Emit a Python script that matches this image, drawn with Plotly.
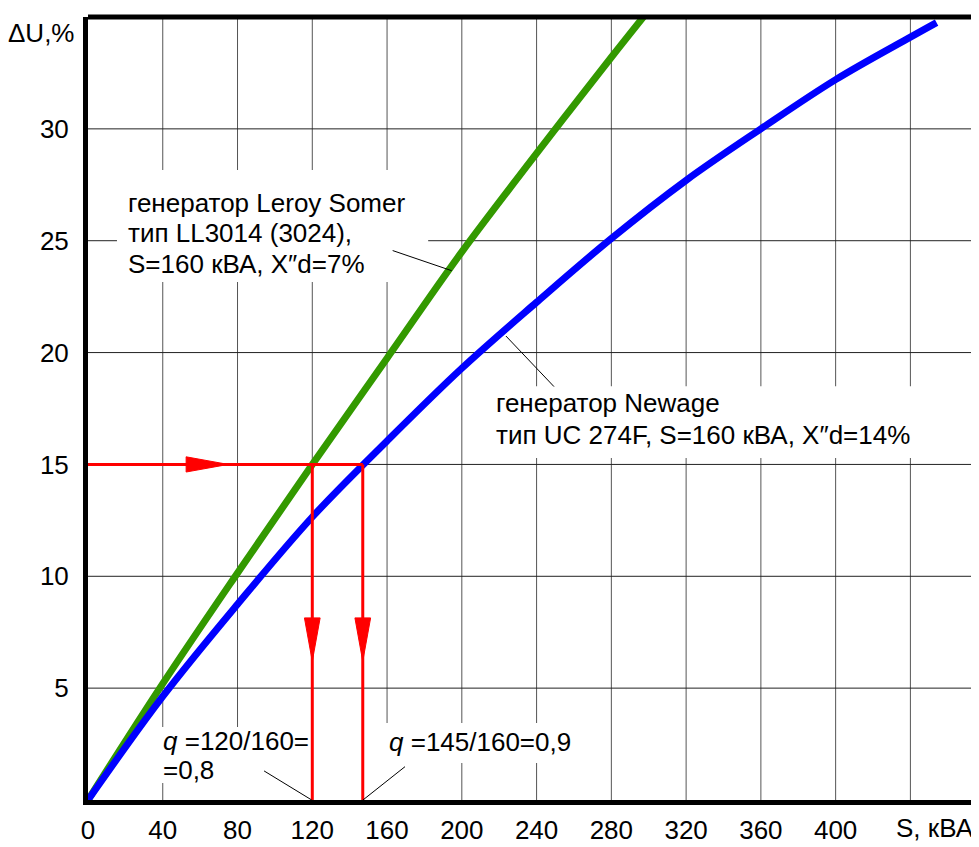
import plotly.graph_objects as go

# Leroy Somer LL3014 (green)
ls_s = [0, 40, 80, 120, 160, 200, 240, 280, 300]
ls_u = [0, 5.2, 10.15, 15.0, 19.75, 24.5, 28.9, 33.2, 35.3]
# Newage UC 274F (blue)
nw_s = [0, 40, 80, 120, 160, 200, 240, 280, 320, 360, 400, 440, 454]
nw_u = [0, 4.63, 8.75, 12.65, 16.05, 19.3, 22.25, 25.1, 27.7, 30.0, 32.2, 34.1, 34.75]

x_ticks = [0, 40, 80, 120, 160, 200, 240, 280, 320, 360, 400]
y_ticks = [5, 10, 15, 20, 25, 30]

du_level = 15
q_s = [120, 147]

FONT = "Liberation Sans, Arial, sans-serif"
FS = 26

fig = go.Figure()

# grid lines as shapes below data
for gx in [40, 80, 120, 160, 200, 240, 280, 320, 360, 400, 440]:
    fig.add_shape(type="line", x0=gx, x1=gx, y0=0, y1=35, line=dict(color="#555555", width=1), layer="below")
for gy in y_ticks:
    fig.add_shape(type="line", x0=0, x1=476.7, y0=gy, y1=gy, line=dict(color="#222222", width=1), layer="below")

# white label backgrounds (cover grid only)
boxes = [(15.5, 182.0, 23.16, 28.16),
         (211.3, 444.0, 15.29, 18.5),
         (33.0, 113.0, 0.76, 3.26),
         (76.0, 113.0, 0.0, 3.26),
         (153.6, 250.0, 1.65, 3.44),
         (153.6, 165.0, 0.0, 3.44)]
for (x0, x1, y0, y1) in boxes:
    fig.add_shape(type="rect", x0=x0, x1=x1, y0=y0, y1=y1, fillcolor="white", line=dict(width=0), layer="below")

fig.add_trace(go.Scatter(x=ls_s, y=ls_u, mode="lines", line=dict(color="#339900", width=7, shape="spline"), hoverinfo="skip"))
fig.add_trace(go.Scatter(x=nw_s, y=nw_u, mode="lines", line=dict(color="#0000ff", width=7, shape="spline"), hoverinfo="skip"))

# red construction lines
fig.add_trace(go.Scatter(x=[0, q_s[1]], y=[du_level, du_level], mode="lines", line=dict(color="#ff0000", width=3), hoverinfo="skip"))
for qs in q_s:
    fig.add_trace(go.Scatter(x=[qs, qs], y=[du_level, 0], mode="lines", line=dict(color="#ff0000", width=3), hoverinfo="skip"))

# arrowheads (in data units)
fig.add_trace(go.Scatter(x=[52.5, 75, 52.5, 52.5], y=[du_level + 0.34, du_level, du_level - 0.34, du_level + 0.34],
                         mode="lines", fill="toself", fillcolor="#ff0000", line=dict(color="#ff0000", width=1), hoverinfo="skip"))
for qs in q_s:
    fig.add_trace(go.Scatter(x=[qs - 4.2, qs + 4.2, qs, qs - 4.2], y=[8.14, 8.14, 6.2, 8.14],
                             mode="lines", fill="toself", fillcolor="#ff0000", line=dict(color="#ff0000", width=1), hoverinfo="skip"))

# leader lines
leaders = [((163.0, 24.56), (194.6, 23.66)),
           ((223.6, 20.74), (249.3, 18.48)),
           ((94.2, 1.30), (119.7, 0)),
           ((169.6, 1.49), (147.1, 0))]
for (a, b) in leaders:
    fig.add_shape(type="line", x0=a[0], y0=a[1], x1=b[0], y1=b[1], line=dict(color="black", width=1), layer="above")

def ann(x, y, text, **kw):
    d = dict(x=x, y=y, text=text, showarrow=False, xanchor="left", yanchor="middle", align="left",
             font=dict(family=FONT, size=FS, color="black"), borderpad=4)
    d.update(kw)
    fig.add_annotation(**d)

xd = "X\u2033d"
ann(18.8, 26.69, "генератор Leroy Somer")
ann(18.8, 25.35, "тип LL3014 (3024),")
ann(18.8, 23.98, "S=160 кВА, " + xd + "=7%")
ann(215.7, 17.75, "генератор Newage")
ann(215.7, 16.32, "тип UC 274F, S=160 кВА, " + xd + "=14%")
ann(37.3, 2.65, "<i>q</i> =120/160=")
ann(37.3, 1.34, "=0,8")
ann(158.4, 2.61, "<i>q</i> =145/160=0,9")

fig.add_annotation(x=-0.0527, xref="paper", y=34.3, text="\u0394U,%", showarrow=False, xanchor="center", yanchor="middle",
                   font=dict(family=FONT, size=FS, color="black"))
fig.add_annotation(x=453, y=0, yref="y", text="S, кВА", showarrow=False, xanchor="center", yanchor="top", yshift=-11,
                   font=dict(family=FONT, size=FS, color="black"))

# top border
fig.add_shape(type="line", xref="paper", yref="paper", x0=0, x1=1, y0=1, y1=1, line=dict(color="black", width=5), layer="above")

fig.update_layout(
    width=971, height=839,
    margin=dict(l=80, r=0, t=9, b=47, autoexpand=False),
    plot_bgcolor="white", paper_bgcolor="white",
    showlegend=False,
    xaxis=dict(range=[0, 476.7], tickvals=x_ticks, ticktext=[str(v) for v in x_ticks],
               showgrid=False, zeroline=False, showline=True, linecolor="black", linewidth=5,
               ticks="", tickfont=dict(family=FONT, size=FS, color="black"), ticklabelstandoff=3, automargin=False),
    yaxis=dict(range=[0, 35], tickvals=y_ticks, ticktext=[str(v) for v in y_ticks],
               showgrid=False, zeroline=False, showline=True, linecolor="black", linewidth=5,
               ticks="", tickfont=dict(family=FONT, size=FS, color="black"), ticklabelstandoff=9, automargin=False),
)

fig.write_html("out.html")
